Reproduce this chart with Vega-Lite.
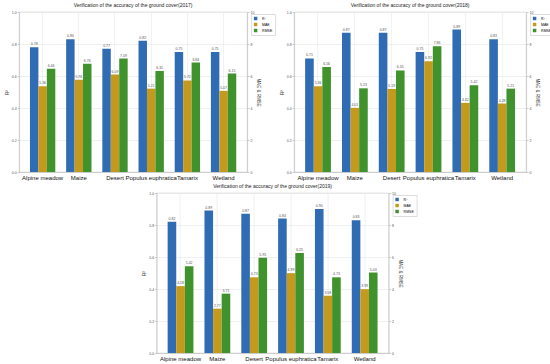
{
  "$schema": "https://vega.github.io/schema/vega-lite/v6.json",
  "padding": {"left": 3, "top": 2, "right": 0, "bottom": 0},
  "spacing": 2,
  "center": true,
  "config": {
    "font": "Liberation Sans",
    "view": {"stroke": "#cccccc", "strokeWidth": 0.6},
    "axis": {"domainColor": "#bbbbbb", "domainWidth": 0.6, "tickColor": "#999999", "tickSize": 2, "tickWidth": 0.5, "labelFontSize": 3.5, "labelColor": "#555555", "titleFontSize": 4.5, "titleFontWeight": "normal", "titleColor": "#333333", "gridColor": "#e6e6e6", "gridWidth": 0.6, "labelPadding": 1}
  },
  "datasets": {
    "d": [
      {"year": 2017, "type": "Alpine meadow", "metric": "R²", "value": 0.78},
      {"year": 2017, "type": "Maize", "metric": "R²", "value": 0.83},
      {"year": 2017, "type": "Desert", "metric": "R²", "value": 0.77},
      {"year": 2017, "type": "Populus euphratica", "metric": "R²", "value": 0.82},
      {"year": 2017, "type": "Tamarix", "metric": "R²", "value": 0.75},
      {"year": 2017, "type": "Wetland", "metric": "R²", "value": 0.75},
      {"year": 2017, "type": "Alpine meadow", "metric": "MAE", "value": 5.36},
      {"year": 2017, "type": "Maize", "metric": "MAE", "value": 5.76},
      {"year": 2017, "type": "Desert", "metric": "MAE", "value": 6.09},
      {"year": 2017, "type": "Populus euphratica", "metric": "MAE", "value": 5.21},
      {"year": 2017, "type": "Tamarix", "metric": "MAE", "value": 5.72},
      {"year": 2017, "type": "Wetland", "metric": "MAE", "value": 5.07},
      {"year": 2017, "type": "Alpine meadow", "metric": "RMSE", "value": 6.46},
      {"year": 2017, "type": "Maize", "metric": "RMSE", "value": 6.76},
      {"year": 2017, "type": "Desert", "metric": "RMSE", "value": 7.09},
      {"year": 2017, "type": "Populus euphratica", "metric": "RMSE", "value": 6.31},
      {"year": 2017, "type": "Tamarix", "metric": "RMSE", "value": 6.84},
      {"year": 2017, "type": "Wetland", "metric": "RMSE", "value": 6.15},
      {"year": 2018, "type": "Alpine meadow", "metric": "R²", "value": 0.71},
      {"year": 2018, "type": "Maize", "metric": "R²", "value": 0.87},
      {"year": 2018, "type": "Desert", "metric": "R²", "value": 0.87},
      {"year": 2018, "type": "Populus euphratica", "metric": "R²", "value": 0.75},
      {"year": 2018, "type": "Tamarix", "metric": "R²", "value": 0.89},
      {"year": 2018, "type": "Wetland", "metric": "R²", "value": 0.83},
      {"year": 2018, "type": "Alpine meadow", "metric": "MAE", "value": 5.36},
      {"year": 2018, "type": "Maize", "metric": "MAE", "value": 4.01},
      {"year": 2018, "type": "Desert", "metric": "MAE", "value": 5.19},
      {"year": 2018, "type": "Populus euphratica", "metric": "MAE", "value": 6.92},
      {"year": 2018, "type": "Tamarix", "metric": "MAE", "value": 4.32},
      {"year": 2018, "type": "Wetland", "metric": "MAE", "value": 4.28},
      {"year": 2018, "type": "Alpine meadow", "metric": "RMSE", "value": 6.56},
      {"year": 2018, "type": "Maize", "metric": "RMSE", "value": 5.23},
      {"year": 2018, "type": "Desert", "metric": "RMSE", "value": 6.35},
      {"year": 2018, "type": "Populus euphratica", "metric": "RMSE", "value": 7.86},
      {"year": 2018, "type": "Tamarix", "metric": "RMSE", "value": 5.42},
      {"year": 2018, "type": "Wetland", "metric": "RMSE", "value": 5.21},
      {"year": 2019, "type": "Alpine meadow", "metric": "R²", "value": 0.82},
      {"year": 2019, "type": "Maize", "metric": "R²", "value": 0.89},
      {"year": 2019, "type": "Desert", "metric": "R²", "value": 0.87},
      {"year": 2019, "type": "Populus euphratica", "metric": "R²", "value": 0.84},
      {"year": 2019, "type": "Tamarix", "metric": "R²", "value": 0.90},
      {"year": 2019, "type": "Wetland", "metric": "R²", "value": 0.83},
      {"year": 2019, "type": "Alpine meadow", "metric": "MAE", "value": 4.18},
      {"year": 2019, "type": "Maize", "metric": "MAE", "value": 2.77},
      {"year": 2019, "type": "Desert", "metric": "MAE", "value": 4.73},
      {"year": 2019, "type": "Populus euphratica", "metric": "MAE", "value": 4.99},
      {"year": 2019, "type": "Tamarix", "metric": "MAE", "value": 3.58},
      {"year": 2019, "type": "Wetland", "metric": "MAE", "value": 3.99},
      {"year": 2019, "type": "Alpine meadow", "metric": "RMSE", "value": 5.42},
      {"year": 2019, "type": "Maize", "metric": "RMSE", "value": 3.71},
      {"year": 2019, "type": "Desert", "metric": "RMSE", "value": 5.95},
      {"year": 2019, "type": "Populus euphratica", "metric": "RMSE", "value": 6.25},
      {"year": 2019, "type": "Tamarix", "metric": "RMSE", "value": 4.73},
      {"year": 2019, "type": "Wetland", "metric": "RMSE", "value": 5.03}
    ]
  },
  "data": {"name": "d"},
  "resolve": {"scale": {"color": "independent", "x": "independent", "y": "independent", "xOffset": "independent"}, "legend": {"color": "independent"}},
  "vconcat": [
    {
      "hconcat": [
        {
          "width": 228, "height": 160,
          "title": {"text": "Verification of the accuracy of the ground cover(2017)", "fontSize": 5, "fontWeight": "normal", "offset": 2, "color": "#222222"},
          "transform": [{"filter": "datum.year == 2017"}],
          "encoding": {
            "x": {"field": "type", "type": "nominal", "sort": ["Alpine meadow", "Maize", "Desert", "Populus euphratica", "Tamarix", "Wetland"], "scale": {"paddingInner": 0.3, "paddingOuter": 0.3}, "axis": {"title": null, "labelAngle": 0, "labelFontSize": 6, "labelColor": "#111111", "labelOverlap": false, "labelPadding": 2, "grid": true, "bandPosition": 0.5, "ticks": false}},
            "xOffset": {"field": "metric", "type": "nominal", "scale": {"domain": ["R²", "MAE", "RMSE"]}},
            "color": {"field": "metric", "type": "nominal", "scale": {"domain": ["R²", "MAE", "RMSE"], "range": ["#2f6cb3", "#c49a1e", "#3f922c"]}, "legend": {"title": null, "orient": "none", "legendX": 232, "legendY": 2, "symbolType": "square", "symbolSize": 12, "labelFontSize": 3.5, "rowPadding": 1, "padding": 2, "strokeColor": "#dddddd", "fillColor": "white"}}
          },
          "layer": [
            {
              "transform": [{"filter": "datum.metric == 'R²'"}],
              "encoding": {"y": {"field": "value", "type": "quantitative", "scale": {"domain": [0, 1]}, "axis": {"title": "R²", "format": ".1f", "values": [0, 0.2, 0.4, 0.6, 0.8, 1.0], "grid": true, "titlePadding": 2}}},
              "layer": [
                {"mark": {"type": "bar"}},
                {"mark": {"type": "text", "fontSize": 3.5, "dy": -3}, "encoding": {"text": {"field": "value", "type": "quantitative", "format": ".2f"}, "color": {"value": "#555555"}}}
              ]
            },
            {
              "transform": [{"filter": "datum.metric != 'R²'"}],
              "encoding": {"y": {"field": "value", "type": "quantitative", "scale": {"domain": [0, 10]}, "axis": {"title": "MAE & RMSE", "orient": "right", "values": [0, 2, 4, 6, 8, 10], "grid": false, "titlePadding": 2}}},
              "layer": [
                {"mark": {"type": "bar"}},
                {"mark": {"type": "text", "fontSize": 3.5, "dy": -3}, "encoding": {"text": {"field": "value", "type": "quantitative", "format": ".2f"}, "color": {"value": "#555555"}}}
              ]
            }
          ],
          "resolve": {"scale": {"y": "independent"}}
        },
        {
          "width": 232, "height": 160,
          "title": {"text": "Verification of the accuracy of the ground cover(2018)", "fontSize": 5, "fontWeight": "normal", "offset": 2, "color": "#222222"},
          "transform": [{"filter": "datum.year == 2018"}],
          "encoding": {
            "x": {"field": "type", "type": "nominal", "sort": ["Alpine meadow", "Maize", "Desert", "Populus euphratica", "Tamarix", "Wetland"], "scale": {"paddingInner": 0.3, "paddingOuter": 0.3}, "axis": {"title": null, "labelAngle": 0, "labelFontSize": 6, "labelColor": "#111111", "labelOverlap": false, "labelPadding": 2, "grid": true, "bandPosition": 0.5, "ticks": false}},
            "xOffset": {"field": "metric", "type": "nominal", "scale": {"domain": ["R²", "MAE", "RMSE"]}},
            "color": {"field": "metric", "type": "nominal", "scale": {"domain": ["R²", "MAE", "RMSE"], "range": ["#2f6cb3", "#c49a1e", "#3f922c"]}, "legend": {"title": null, "orient": "none", "legendX": 236, "legendY": 2, "symbolType": "square", "symbolSize": 12, "labelFontSize": 3.5, "rowPadding": 1, "padding": 2, "strokeColor": "#dddddd", "fillColor": "white"}}
          },
          "layer": [
            {
              "transform": [{"filter": "datum.metric == 'R²'"}],
              "encoding": {"y": {"field": "value", "type": "quantitative", "scale": {"domain": [0, 1]}, "axis": {"title": "R²", "format": ".1f", "values": [0, 0.2, 0.4, 0.6, 0.8, 1.0], "grid": true, "titlePadding": 2}}},
              "layer": [
                {"mark": {"type": "bar"}},
                {"mark": {"type": "text", "fontSize": 3.5, "dy": -3}, "encoding": {"text": {"field": "value", "type": "quantitative", "format": ".2f"}, "color": {"value": "#555555"}}}
              ]
            },
            {
              "transform": [{"filter": "datum.metric != 'R²'"}],
              "encoding": {"y": {"field": "value", "type": "quantitative", "scale": {"domain": [0, 10]}, "axis": {"title": "MAE & RMSE", "orient": "right", "values": [0, 2, 4, 6, 8, 10], "grid": false, "titlePadding": 2}}},
              "layer": [
                {"mark": {"type": "bar"}},
                {"mark": {"type": "text", "fontSize": 3.5, "dy": -3}, "encoding": {"text": {"field": "value", "type": "quantitative", "format": ".2f"}, "color": {"value": "#555555"}}}
              ]
            }
          ],
          "resolve": {"scale": {"y": "independent"}}
        }
      ],
      "spacing": 2,
      "resolve": {"scale": {"color": "independent", "x": "independent", "y": "independent", "xOffset": "independent"}, "legend": {"color": "independent"}}
    },
    {
      "width": 232, "height": 160,
      "title": {"text": "Verification of the accuracy of the ground cover(2019)", "fontSize": 5, "fontWeight": "normal", "offset": 2, "color": "#222222"},
      "transform": [{"filter": "datum.year == 2019"}],
      "encoding": {
        "x": {"field": "type", "type": "nominal", "sort": ["Alpine meadow", "Maize", "Desert", "Populus euphratica", "Tamarix", "Wetland"], "scale": {"paddingInner": 0.3, "paddingOuter": 0.3}, "axis": {"title": null, "labelAngle": 0, "labelFontSize": 6, "labelColor": "#111111", "labelOverlap": false, "labelPadding": 2, "grid": true, "bandPosition": 0.5, "ticks": false}},
        "xOffset": {"field": "metric", "type": "nominal", "scale": {"domain": ["R²", "MAE", "RMSE"]}},
        "color": {"field": "metric", "type": "nominal", "scale": {"domain": ["R²", "MAE", "RMSE"], "range": ["#2f6cb3", "#c49a1e", "#3f922c"]}, "legend": {"title": null, "orient": "none", "legendX": 236, "legendY": 2, "symbolType": "square", "symbolSize": 12, "labelFontSize": 3.5, "rowPadding": 1, "padding": 2, "strokeColor": "#dddddd", "fillColor": "white"}}
      },
      "layer": [
        {
          "transform": [{"filter": "datum.metric == 'R²'"}],
          "encoding": {"y": {"field": "value", "type": "quantitative", "scale": {"domain": [0, 1]}, "axis": {"title": "R²", "format": ".1f", "values": [0, 0.2, 0.4, 0.6, 0.8, 1.0], "grid": true, "titlePadding": 2}}},
          "layer": [
            {"mark": {"type": "bar"}},
            {"mark": {"type": "text", "fontSize": 3.5, "dy": -3}, "encoding": {"text": {"field": "value", "type": "quantitative", "format": ".2f"}, "color": {"value": "#555555"}}}
          ]
        },
        {
          "transform": [{"filter": "datum.metric != 'R²'"}],
          "encoding": {"y": {"field": "value", "type": "quantitative", "scale": {"domain": [0, 10]}, "axis": {"title": "MAE & RMSE", "orient": "right", "values": [0, 2, 4, 6, 8, 10], "grid": false, "titlePadding": 2}}},
          "layer": [
            {"mark": {"type": "bar"}},
            {"mark": {"type": "text", "fontSize": 3.5, "dy": -3}, "encoding": {"text": {"field": "value", "type": "quantitative", "format": ".2f"}, "color": {"value": "#555555"}}}
          ]
        }
      ],
      "resolve": {"scale": {"y": "independent"}}
    }
  ]
}
